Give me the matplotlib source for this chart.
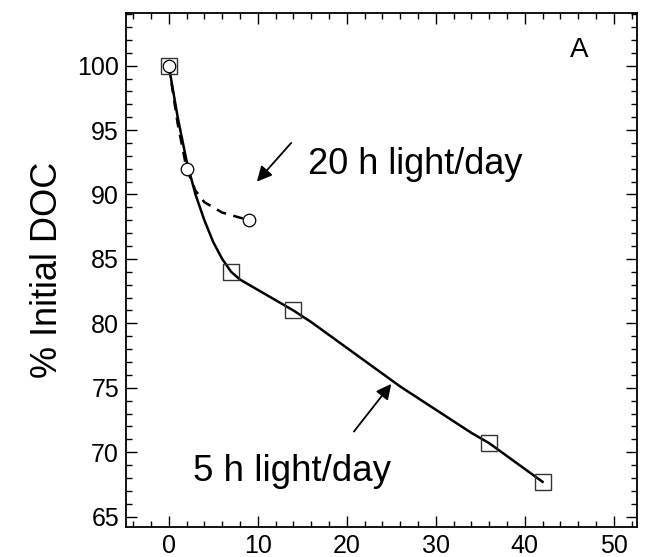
import matplotlib.pyplot as plt
from matplotlib.ticker import MultipleLocator

plt.rcParams["font.family"] = ["Liberation Sans", "DejaVu Sans"]

# measured points
days_5h = [0, 7, 14, 36, 42]
doc_5h = [100, 84, 81, 70.7, 67.7]
days_20h = [0, 2, 9]
doc_20h = [100, 92, 88]

# fitted curves
fit_5h_x = [0, 1, 2, 3, 4, 5, 6, 7, 8, 10, 12, 14, 16, 18, 20, 22, 24, 26,
            28, 30, 32, 34, 36, 39, 42]
fit_5h_y = [100, 96.0, 92.6, 90.0, 88.0, 86.3, 85.0, 84.0, 83.4, 82.6, 81.8,
            81.0, 80.1, 79.1, 78.1, 77.1, 76.1, 75.1, 74.2, 73.3, 72.4, 71.5,
            70.7, 69.2, 67.7]
fit_20h_x = [0, 1, 2, 3, 4, 6, 8, 9]
fit_20h_y = [100, 95.5, 92.0, 90.3, 89.4, 88.6, 88.2, 88.0]

fig = plt.figure(figsize=(6.6, 5.57), dpi=100)
ax = fig.add_axes([0.191, 0.054, 0.774, 0.923])

ax.plot(fit_5h_x, fit_5h_y, color="black", lw=1.8, solid_joinstyle="round")
ax.plot(fit_20h_x, fit_20h_y, color="black", lw=1.8, ls=(0, (4, 3)))
ax.plot(days_5h, doc_5h, "s", ms=11.5, mfc="none", mec="#333333", mew=1)
ax.plot(days_20h, doc_20h, "o", ms=9, mfc="white", mec="black", mew=0.9)

ax.annotate("", xy=(9.9, 91.0), xytext=(13.75, 94.0),
            arrowprops=dict(arrowstyle="-|>,head_length=0.9,head_width=0.45",
                            color="black", lw=1.3, shrinkA=0, shrinkB=0))
ax.text(15.6, 92.3, "20 h light/day", fontsize=26, ha="left", va="center")

ax.annotate("", xy=(25.0, 75.3), xytext=(20.8, 71.6),
            arrowprops=dict(arrowstyle="-|>,head_length=0.9,head_width=0.45",
                            color="black", lw=1.3, shrinkA=0, shrinkB=0))
ax.text(2.7, 68.5, "5 h light/day", fontsize=26.5, ha="left", va="center")

ax.text(46.1, 101.2, "A", fontsize=20, ha="center", va="center")

ax.set_xlim(-4.8, 52.6)
ax.set_ylim(64.2, 104.1)
ax.xaxis.set_major_locator(MultipleLocator(10))
ax.xaxis.set_minor_locator(MultipleLocator(2))
ax.yaxis.set_major_locator(MultipleLocator(5))
ax.yaxis.set_minor_locator(MultipleLocator(1))
ax.tick_params(which="both", direction="in", top=True, right=True, labelsize=18)
ax.tick_params(which="major", length=8, width=1, pad=5)
ax.tick_params(which="minor", length=4, width=1)
for s in ax.spines.values():
    s.set_linewidth(1.3)

ax.set_ylabel("% Initial DOC", fontsize=26)
ax.yaxis.set_label_coords(-0.12, 0.5)

fig.savefig("out.png", dpi=100)
